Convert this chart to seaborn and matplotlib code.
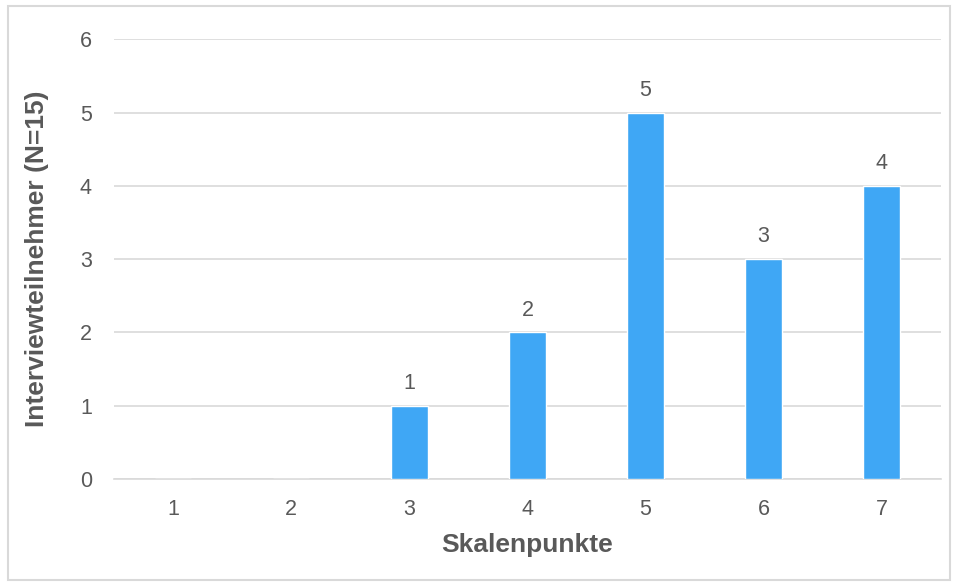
import matplotlib
matplotlib.use("Agg")
import matplotlib.pyplot as plt
import seaborn as sns
import pandas as pd

# Data
skalenpunkte = ["1", "2", "3", "4", "5", "6", "7"]
teilnehmer = [0, 0, 1, 2, 5, 3, 4]
y_ticks = [0, 1, 2, 3, 4, 5, 6]

bar_color = "#3FA7F5"
text_color = "#595959"
grid_color = "#D9D9D9"

sns.set_theme(style="white")
plt.rcParams["font.family"] = ["Liberation Sans", "DejaVu Sans"]

df = pd.DataFrame({"Skalenpunkte": skalenpunkte, "Anzahl": teilnehmer})

fig = plt.figure(figsize=(9.58, 5.85), dpi=100)
ax = fig.add_axes([0.119, 0.181, 0.863, 0.752])

sns.barplot(data=df, x="Skalenpunkte", y="Anzahl", color=bar_color,
            width=0.31, saturation=1, ax=ax, zorder=3)

# value labels above the non-zero bars
for i, v in enumerate(teilnehmer):
    if v > 0:
        ax.text(i, v + 0.16, str(v), ha="center", va="bottom",
                fontsize=15.5, color=text_color)

ax.set_ylim(0, 6)
ax.set_xlim(-0.5, len(skalenpunkte) - 0.5)
ax.set_yticks(y_ticks)
ax.yaxis.grid(True, color=grid_color, linewidth=1.2, zorder=0)
ax.set_axisbelow(True)

for side in ["left", "right", "top"]:
    ax.spines[side].set_visible(False)
ax.spines["bottom"].set_color(grid_color)
ax.spines["bottom"].set_linewidth(1.2)

ax.tick_params(axis="both", length=0, labelsize=15.5, labelcolor=text_color)
ax.tick_params(axis="y", pad=16)
ax.tick_params(axis="x", pad=14)

ax.set_xlabel("Skalenpunkte", fontsize=19, fontweight="bold",
              color=text_color, labelpad=10)
ax.set_ylabel("Interviewteilnehmer (N=15)", fontsize=19, fontweight="bold",
              color=text_color, labelpad=22)

# light frame round the whole chart
frame = plt.Rectangle((0.008, 0.008), 0.984, 0.981, transform=fig.transFigure,
                      fill=False, edgecolor="#D9D9D9", linewidth=1.5)
fig.patches.append(frame)

fig.savefig("out.png", dpi=100, facecolor="white")
